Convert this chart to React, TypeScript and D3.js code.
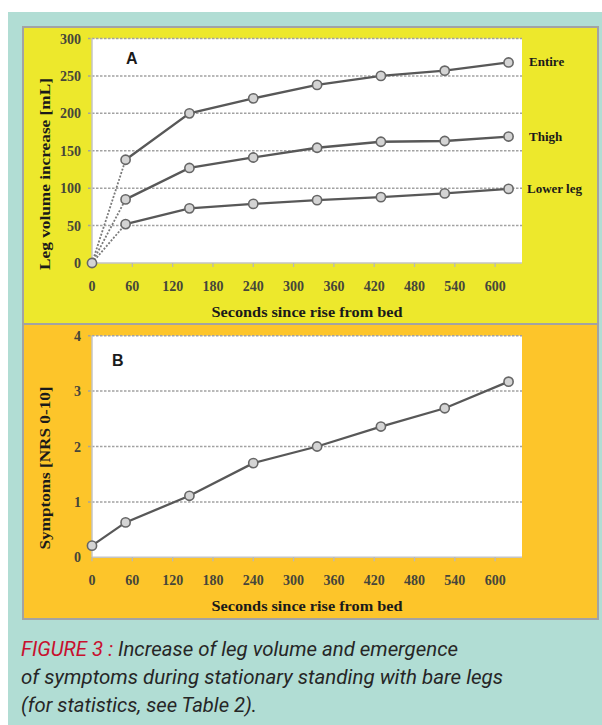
import React from "react";
import * as d3 from "d3";

const times = [0, 50, 145, 240, 335, 430, 525, 620];
const entire = [0, 138, 200, 220, 238, 250, 257, 268];
const thigh = [0, 85, 127, 141, 154, 162, 163, 169];
const lowerLeg = [0, 52, 73, 79, 84, 88, 93, 99];
const symptoms = [0.21, 0.63, 1.11, 1.7, 2.0, 2.36, 2.69, 3.17];
const xTicks = [0, 60, 120, 180, 240, 300, 360, 420, 480, 540, 600];
const yTicksA = [0, 50, 100, 150, 200, 250, 300];
const yTicksB = [0, 1, 2, 3, 4];
const seriesA = [
  { name: "Entire", values: entire },
  { name: "Thigh", values: thigh },
  { name: "Lower leg", values: lowerLeg },
];

const W = 602;
const H = 725;
const serif = "'Liberation Serif', 'DejaVu Serif', serif";
const lineColor = "#585858";
const tickColor = "#46463a";

type Sc = d3.ScaleLinear<number, number>;

type PanelProps = {
  top: number;
  bottom: number;
  bg: string;
  yDomain: [number, number];
  yRange: [number, number];
  yTicks: number[];
  yTitle: string;
  yTitleLen: number;
  yTitleCenter: number;
  letter: string;
  letterX: number;
  letterY: number;
  xLabelY: number;
  xTitleY: number;
  children: (x: Sc, y: Sc) => React.ReactNode;
};

function Panel(p: PanelProps) {
  const x = d3.scaleLinear().domain([0, 640]).range([92, 522]);
  const y = d3.scaleLinear().domain(p.yDomain).range(p.yRange);
  const y0 = y(p.yDomain[0]);
  const y1 = y(p.yDomain[1]);
  return (
    <g>
      <rect x={23} y={p.top} width={575} height={p.bottom - p.top} fill={p.bg} stroke="#a3a3a3" strokeWidth={2} />
      <rect x={x(0)} y={y1} width={x(640) - x(0)} height={y0 - y1} fill="#ffffff" />
      {p.yTicks.map((t) =>
        t === p.yDomain[0] ? null : (
          <line key={t} x1={x(0) - 4} x2={x(640)} y1={y(t)} y2={y(t)} stroke="#a2a2a2" strokeWidth={1.5} strokeDasharray="2.5,1.5" />
        )
      )}
      <line x1={x(0)} x2={x(0)} y1={y1} y2={y0} stroke="#c4c4c4" strokeWidth={1.5} />
      <line x1={x(0)} x2={x(640)} y1={y0} y2={y0} stroke="#c4c4c4" strokeWidth={1.5} />
      {xTicks.map((t) => (
        <line key={t} x1={x(t)} x2={x(t)} y1={y0} y2={y0 + 4} stroke="#b8b8b8" strokeWidth={1.3} />
      ))}
      {p.yTicks.map((t) => (
        <text key={t} x={81} y={y(t) + 5} textAnchor="end" fontFamily={serif} fontWeight="bold" fontSize={14} fill={tickColor}>
          {t}
        </text>
      ))}
      {xTicks.map((t) => (
        <text key={t} x={x(t)} y={p.xLabelY} textAnchor="middle" fontFamily={serif} fontWeight="bold" fontSize={14} fill={tickColor}>
          {t}
        </text>
      ))}
      <text x={307} y={p.xTitleY} textAnchor="middle" fontFamily={serif} fontWeight="bold" fontSize={14} fill="#1a1a1a" textLength={191} lengthAdjust="spacingAndGlyphs">
        Seconds since rise from bed
      </text>
      <text
        transform={`translate(50,${p.yTitleCenter}) rotate(-90)`}
        textAnchor="middle"
        fontFamily={serif}
        fontWeight="bold"
        fontSize={14.5}
        fill="#1a1a1a"
        textLength={p.yTitleLen}
        lengthAdjust="spacingAndGlyphs"
      >
        {p.yTitle}
      </text>
      <text x={p.letterX} y={p.letterY} fontFamily="'Liberation Sans', Arial, sans-serif" fontWeight="bold" fontSize={16} fill="#1a1a1a">
        {p.letter}
      </text>
      {p.children(x, y)}
    </g>
  );
}

function Marker({ cx, cy }: { cx: number; cy: number }) {
  return <circle cx={cx} cy={cy} r={4.6} fill="#d4d4d4" stroke="#666" strokeWidth={1.6} />;
}

export default function App() {
  const lineGen = (x: Sc, y: Sc, ts: number[]) =>
    d3
      .line<number>()
      .x((_, i) => x(ts[i]))
      .y((v) => y(v));

  return (
    <svg width={W} height={H} style={{ position: "absolute", left: 0, top: 0 }}>
      <rect x={8} y={12} width={W - 8} height={H - 12} fill="#b1ddd4" />
      <Panel
        top={27}
        bottom={324}
        bg="#ede82c"
        yDomain={[0, 300]}
        yRange={[263, 38.5]}
        yTicks={yTicksA}
        yTitle="Leg volume increase [mL]"
        yTitleLen={192}
        yTitleCenter={174}
        letter="A"
        letterX={126}
        letterY={64}
        xLabelY={291}
        xTitleY={317}
      >
        {(x, y) => (
          <g>
            {seriesA.map((s) => (
              <line
                key={"d" + s.name}
                x1={x(times[0])}
                y1={y(s.values[0])}
                x2={x(times[1])}
                y2={y(s.values[1])}
                stroke="#7a7a7a"
                strokeWidth={1.8}
                strokeDasharray="2,1.6"
              />
            ))}
            {seriesA.map((s) => (
              <path
                key={"l" + s.name}
                d={lineGen(x, y, times.slice(1))(s.values.slice(1)) as string}
                fill="none"
                stroke={lineColor}
                strokeWidth={2.3}
              />
            ))}
            {seriesA.map((s) =>
              s.values.map((v, i) => (i === 0 && s.name !== "Entire" ? null : <Marker key={s.name + i} cx={x(times[i])} cy={y(v)} />))
            )}
            {seriesA.map((s) => (
              <text
                key={"t" + s.name}
                x={s.name === "Lower leg" ? 527 : 529}
                y={y(s.values[s.values.length - 1]) + 4}
                fontFamily={serif}
                fontWeight="bold"
                fontSize={13}
                fill="#1a1a1a"
              >
                {s.name}
              </text>
            ))}
          </g>
        )}
      </Panel>
      <Panel
        top={324}
        bottom={619}
        bg="#fdc52a"
        yDomain={[0, 4]}
        yRange={[557.3, 335.7]}
        yTicks={yTicksB}
        yTitle="Symptoms [NRS 0-10]"
        yTitleLen={163}
        yTitleCenter={468}
        letter="B"
        letterX={112}
        letterY={366}
        xLabelY={585}
        xTitleY={611}
      >
        {(x, y) => (
          <g>
            <path d={lineGen(x, y, times)(symptoms) as string} fill="none" stroke={lineColor} strokeWidth={2.3} />
            {symptoms.map((v, i) => (
              <Marker key={i} cx={x(times[i])} cy={y(v)} />
            ))}
          </g>
        )}
      </Panel>
      <g fontFamily="Roboto, 'Noto Sans', sans-serif" fontStyle="italic" fontSize={19.5} fill="#262626">
        <text x={21} y={656} textLength={437} lengthAdjust="spacingAndGlyphs">
          <tspan fill="#c8102e">FIGURE 3 :</tspan> Increase of leg volume and emergence
        </text>
        <text x={21} y={684} textLength={482} lengthAdjust="spacingAndGlyphs">
          of symptoms during stationary standing with bare legs
        </text>
        <text x={21} y={712} textLength={236} lengthAdjust="spacingAndGlyphs">
          (for statistics, see Table 2).
        </text>
      </g>
    </svg>
  );
}
